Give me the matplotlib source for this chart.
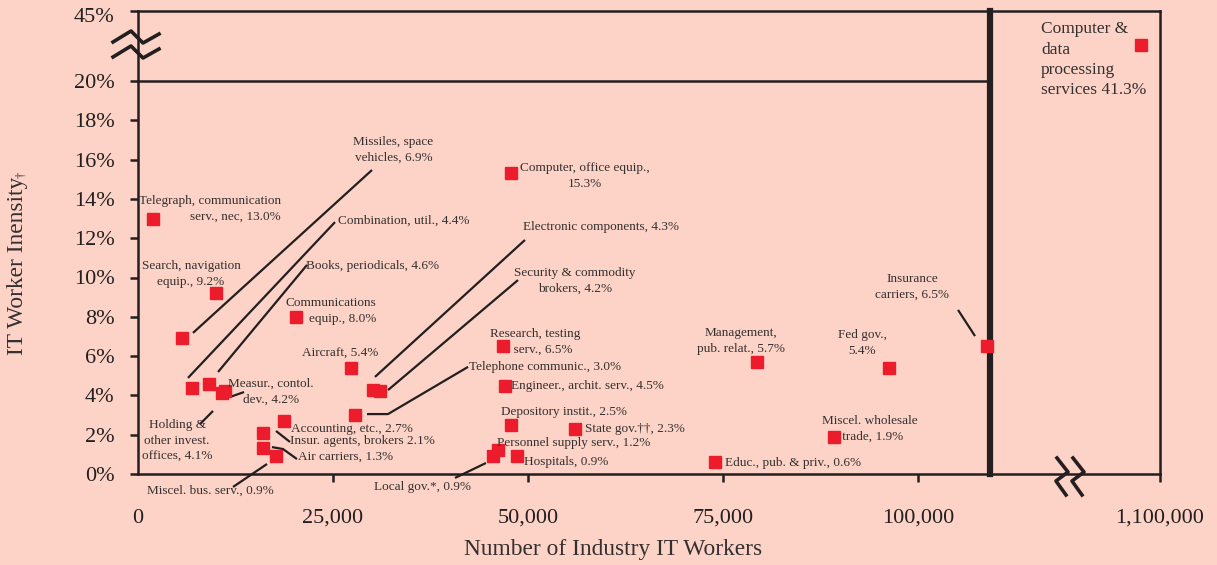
import matplotlib.pyplot as plt
from matplotlib.lines import Line2D
from matplotlib.transforms import ScaledTranslation

plt.rcParams['font.family'] = ['Liberation Serif', 'DejaVu Serif']

BG = '#fcd3c6'
RED = '#ec1c2d'
INK = '#231f20'
TXT = '#353030'

# industry, IT workers, IT worker intensity (%)
industries = [
    'Telegraph', 'Search, navigation', 'Missiles', 'Combination util.',
    'Books', 'Holding', 'Measur.', 'Communications equip.', 'Aircraft',
    'Electronic components', 'Security brokers', 'Telephone', 'Accounting',
    'Insur. agents', 'Air carriers', 'Miscel. bus.', 'Computer, office',
    'Research', 'Engineer.', 'Depository', 'State gov.', 'Personnel',
    'Local gov.', 'Hospitals', 'Educ.', 'Management', 'Miscel. wholesale',
    'Fed gov.', 'Insurance carriers',
]
it_workers = [
    1900, 10000, 5650, 6900, 9100, 10800, 11100, 20250, 27300,
    30100, 31000, 27800, 18700, 16000, 16000, 17700, 47800,
    46800, 47000, 47800, 56000, 46100, 45500, 48600, 74000, 79400, 89200,
    96300, 108850,
]
it_intensity = [
    13.0, 9.2, 6.9, 4.4, 4.6, 4.1, 4.2, 8.0, 5.4,
    4.3, 4.2, 3.0, 2.7, 2.1, 1.3, 0.9, 15.3,
    6.5, 4.5, 2.5, 2.3, 1.2, 0.9, 0.9, 0.6, 5.7, 1.9,
    5.4, 6.5,
]

big_workers = 1089000
big_intensity = 41.3

# label text, anchor x, anchor y, ha, va, multialignment
labels = [
    ('Telegraph, communication\nserv., nec, 13.0%', 18330, 14.2, 'right', 'top', 'right'),
    ('Missiles, space\nvehicles, 6.9%', 37820, 17.2, 'right', 'top', 'right'),
    ('Combination, util., 4.4%', 25640, 12.88, 'left', 'center', 'left'),
    ('Books, periodicals, 4.6%', 21540, 10.59, 'left', 'center', 'left'),
    ('Search, navigation\nequip., 9.2%', 6800, 10.9, 'center', 'top', 'center'),
    ('Communications\nequip., 8.0%', 30500, 9.0, 'right', 'top', 'right'),
    ('Aircraft, 5.4%', 25900, 6.1, 'center', 'center', 'center'),
    ('Measur., contol.\ndev., 4.2%', 17050, 4.9, 'center', 'top', 'center'),
    ('Holding &\nother invest.\noffices, 4.1%', 5000, 2.8, 'center', 'top', 'center'),
    ('Accounting, etc., 2.7%', 19610, 2.29, 'left', 'center', 'left'),
    ('Insur. agents, brokers 2.1%', 19490, 1.68, 'left', 'center', 'left'),
    ('Air carriers, 1.3%', 20510, 0.87, 'left', 'center', 'left'),
    ('Miscel. bus. serv., 0.9%', 1150, -0.87, 'left', 'center', 'left'),
    ('Local gov.*, 0.9%', 30260, -0.66, 'left', 'center', 'left'),
    ('Computer, office equip.,\n15.3%', 57300, 15.9, 'center', 'top', 'center'),
    ('Electronic components, 4.3%', 49360, 12.57, 'left', 'center', 'left'),
    ('Security & commodity\nbrokers, 4.2%', 56020, 10.55, 'center', 'top', 'center'),
    ('Research, testing\n       serv., 6.5%', 45080, 7.45, 'left', 'top', 'left'),
    ('Telephone communic., 3.0%', 42430, 5.45, 'left', 'center', 'left'),
    ('Engineer., archit. serv., 4.5%', 47820, 4.48, 'left', 'center', 'left'),
    ('Depository instit., 2.5%', 46540, 3.16, 'left', 'center', 'left'),
    ('State gov.\u2020\u2020, 2.3%', 57300, 2.29, 'left', 'center', 'left'),
    ('Personnel supply serv., 1.2%', 46030, 1.58, 'left', 'center', 'left'),
    ('Hospitals, 0.9%', 49480, 0.61, 'left', 'center', 'left'),
    ('Educ., pub. & priv., 0.6%', 75250, 0.56, 'left', 'center', 'left'),
    ('Management,\npub. relat., 5.7%', 77300, 7.5, 'center', 'top', 'center'),
    ('Miscel. wholesale\n      trade, 1.9%', 87690, 3.0, 'left', 'top', 'left'),
    ('Fed gov.,\n5.4%', 92820, 7.4, 'center', 'top', 'center'),
    ('Insurance\ncarriers, 6.5%', 99230, 10.25, 'center', 'top', 'center'),
]

# leader lines from label to point
leaders = [
    [(7050, 7.18), (30000, 15.47)],
    [(6410, 4.89), (25260, 12.82)],
    [(10260, 5.19), (21670, 10.64)],
    [(7950, 2.54), (9620, 3.21)],
    [(11790, 3.92), (13590, 4.17)],
    [(30380, 4.94), (49610, 11.91)],
    [(32050, 4.27), (48720, 9.87)],
    [(29360, 3.05), (32050, 3.05), (42310, 5.45)],
    [(17690, 2.19), (19490, 1.63)],
    [(17180, 1.37), (18590, 1.27), (20380, 0.76)],
    [(12180, -0.66), (16540, 0.51)],
    [(40640, -0.2), (44610, 0.56)],
    [(105130, 8.35), (107310, 7.02)],
]

W, H = 1217, 565
fig = plt.figure(figsize=(W / 100, H / 100), dpi=100, facecolor=BG)


def px(x, y):
    return x / W, 1 - y / H


ax_r = fig.add_axes([990 / W, 91 / H, 170 / W, 463 / H], facecolor=BG)
ax_top = fig.add_axes([138 / W, 484 / H, 852 / W, 70 / H])
ax_top.patch.set_visible(False)
ax = fig.add_axes([138 / W, 91 / H, 852 / W, 393 / H])
ax.patch.set_visible(False)
ax.set_zorder(3)

# main panel
ax.plot(it_workers, it_intensity, 's', color=RED, ms=8, zorder=3, clip_on=False)
for txt, x, y, ha, va, ma in labels:
    ax.text(x, y, txt, ha=ha, va=va, multialignment=ma,
            fontsize=9.5, color=TXT, linespacing=1.45)
for pts in leaders:
    xs, ys = zip(*pts)
    ax.plot(xs, ys, color=INK, lw=1.6, clip_on=False, solid_capstyle='butt')

ax.set_xlim(0, 109230)
ax.set_ylim(0, 20)
xt = [0, 25000, 50000, 75000, 100000]
ax.set_xticks(xt)
ax.set_xticklabels([f'{v:,}' for v in xt])
yt = list(range(0, 21, 2))
ax.set_yticks(yt)
ax.set_yticklabels([f'{v}%' for v in yt])
ax.tick_params(axis='both', direction='out', length=6, width=1.8, color=INK,
               labelsize=16, labelcolor=INK)
ax.tick_params(axis='x', pad=19)
ax.tick_params(axis='y', pad=11)
ax.xaxis.get_major_ticks()[0].tick1line.set_visible(False)
for s in ['left', 'bottom', 'top']:
    ax.spines[s].set_linewidth(1.8)
    ax.spines[s].set_color(INK)
ax.spines['right'].set_visible(False)

# top panel (20% - 45%)
ax_top.set_xlim(0, 109230)
ax_top.set_ylim(20, 45)
ax_top.set_xticks([])
ax_top.set_yticks([45])
ax_top.set_yticklabels(['45%'])
ax_top.tick_params(axis='y', direction='out', length=6, width=1.8, color=INK,
                   labelsize=16, labelcolor=INK, pad=11)
shift = ScaledTranslation(0, -4 / 100, fig.dpi_scale_trans)
for lab in ax_top.get_yticklabels():
    lab.set_transform(lab.get_transform() + shift)
for s in ['left', 'top']:
    ax_top.spines[s].set_linewidth(1.8)
    ax_top.spines[s].set_color(INK)
ax_top.spines['right'].set_visible(False)
ax_top.spines['bottom'].set_visible(False)

# right panel
ax_r.plot([big_workers], [big_intensity], 's', color=RED, ms=8)
ax_r.text(1030000, 43.6, 'Computer &\ndata\nprocessing\nservices 41.3%',
          ha='left', va='top', fontsize=12.5, color=TXT, linespacing=1.36)
ax_r.set_xlim(1000000, 1100000)
ax_r.set_ylim(0, 44.6)
ax_r.set_xticks([1100000])
ax_r.set_xticklabels(['1,100,000'])
ax_r.set_yticks([])
ax_r.tick_params(axis='x', direction='out', length=6, width=1.8, color=INK,
                 labelsize=16, labelcolor=INK, pad=19)
for s in ['top', 'right', 'bottom']:
    ax_r.spines[s].set_linewidth(1.8)
    ax_r.spines[s].set_color(INK)
ax_r.spines['left'].set_linewidth(4.5)
ax_r.spines['left'].set_color(INK)

# axis break marks
for dy in (0, 15):
    xs, ys = zip(*[px(113, 42 + dy), px(131, 31 + dy), px(143, 43 + dy), px(159, 34 + dy)])
    fig.add_artist(Line2D(xs, ys, color=INK, lw=2.6))
for dx in (0, 16):
    xs, ys = zip(*[px(1057 + dx, 458), px(1068 + dx, 472), px(1056 + dx, 481), px(1066 + dx, 495)])
    fig.add_artist(Line2D(xs, ys, color=INK, lw=2.6))

# axis titles
fig.text(613 / W, 1 - 550 / H, 'Number of Industry IT Workers', ha='center', va='center',
         fontsize=16.8, color=TXT)
fig.text(18 / W, 1 - 355 / H, 'IT Worker Inensity', rotation=90, ha='center', va='bottom',
         fontsize=16.8, color=TXT)
fig.text(21 / W, 1 - 178 / H, '\u2020', rotation=90, ha='center', va='bottom',
         fontsize=9, color=TXT)

fig.savefig('out.png', dpi=100, facecolor=BG)
